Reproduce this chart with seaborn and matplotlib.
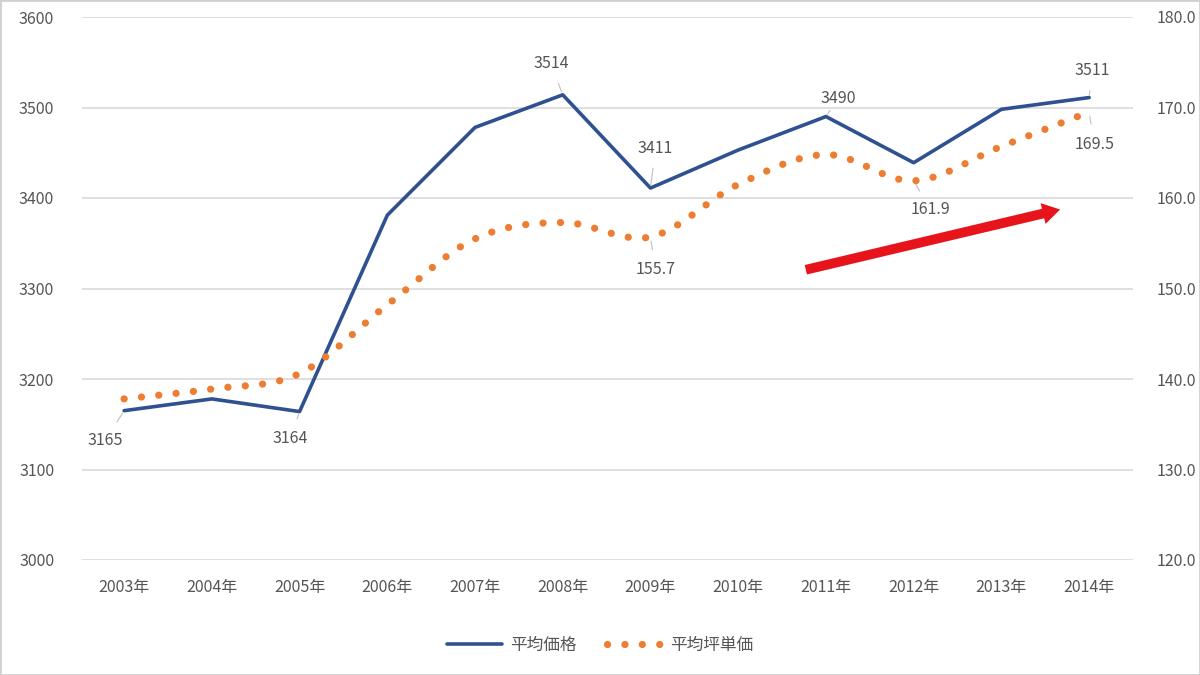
import numpy as np
import pandas as pd
import matplotlib
matplotlib.use("Agg")
import matplotlib.pyplot as plt
import seaborn as sns

years = ["2003年", "2004年", "2005年", "2006年", "2007年", "2008年",
         "2009年", "2010年", "2011年", "2012年", "2013年", "2014年"]
avg_price = [3165, 3178, 3164, 3381, 3478, 3514, 3411, 3453, 3490, 3439, 3498, 3511]
avg_tsubo = [137.8, 138.9, 140.6, 148.2, 155.5, 157.3, 155.7, 161.5, 164.8, 161.9, 165.7, 169.5]
price_labels_idx = [0, 2, 5, 6, 8, 11]
tsubo_labels_idx = [6, 9, 11]
left_ticks = [3000, 3100, 3200, 3300, 3400, 3500, 3600]
right_ticks = [120, 130, 140, 150, 160, 170, 180]

sns.set_theme(style="white")
plt.rcParams['font.family'] = ['Noto Sans CJK JP', 'DejaVu Sans']

BLUE = "#2F5190"
ORANGE = "#ED7D31"
GRAY = "#555555"
DOTS = (0, (0.01, 2.4))

fig = plt.figure(figsize=(12, 6.75), dpi=100)
ax = fig.add_axes([82/1200, 1 - 560/675, (1133-82)/1200, (560-17)/675])
ax2 = ax.twinx()

x = np.arange(len(years))
df = pd.DataFrame({"x": x, "price": avg_price, "tsubo": avg_tsubo})

# smooth curve (Catmull-Rom) through the tsubo values, like Excel's smoothed line
def catmull(xs, ys, n=30):
    xs = np.asarray(xs, float); ys = np.asarray(ys, float)
    px = np.concatenate([[2*xs[0]-xs[1]], xs, [2*xs[-1]-xs[-2]]])
    py = np.concatenate([[2*ys[0]-ys[1]], ys, [2*ys[-1]-ys[-2]]])
    ox, oy = [], []
    for i in range(1, len(px)-2):
        t = np.linspace(0, 1, n, endpoint=False)
        for arr, out in ((px, ox), (py, oy)):
            p0, p1, p2, p3 = arr[i-1], arr[i], arr[i+1], arr[i+2]
            out.extend(0.5*((2*p1) + (-p0+p2)*t + (2*p0-5*p1+4*p2-p3)*t**2 + (-p0+3*p1-3*p2+p3)*t**3))
    ox.append(xs[-1]); oy.append(ys[-1])
    return np.array(ox), np.array(oy)

sx, sy = catmull(x, avg_tsubo)
smooth = pd.DataFrame({"x": sx, "y": sy})

sns.lineplot(data=df, x="x", y="price", ax=ax, color=BLUE, linewidth=2.6, legend=False)
sns.lineplot(data=smooth, x="x", y="y", ax=ax2, color=ORANGE, linewidth=5.2,
             legend=False, estimator=None, sort=False)
line2 = ax2.lines[-1]
line2.set_linestyle(DOTS)
line2.set_dash_capstyle("round")

ax.set_xlim(-0.48, 11.5)
ax.set_ylim(3000, 3600)
ax2.set_ylim(120, 180)
ax.set_yticks(left_ticks)
ax2.set_yticks(right_ticks)
ax2.set_yticklabels([f"{v:.1f}" for v in right_ticks])
ax.set_xticks(x)
ax.set_xticklabels(years)
ax.grid(axis="y", color="#D9D9D9", linewidth=1.2)
ax.set_axisbelow(True)
for a in (ax, ax2):
    for s in a.spines.values():
        s.set_visible(False)
    a.tick_params(length=0, labelsize=11.5, colors=GRAY)
    a.set_xlabel(""); a.set_ylabel("")
ax.tick_params(axis="y", pad=20)
ax2.tick_params(axis="y", pad=17)
ax.tick_params(axis="x", pad=14)

# data labels
price_off = {0: (-19, -30), 2: (-9, -27), 5: (-12, 31), 6: (5, 40), 8: (12, 18), 11: (3, 27)}
for i in price_labels_idx:
    dx, dy = price_off[i]
    ax.annotate(str(avg_price[i]), (x[i], avg_price[i]), xytext=(dx, dy), textcoords="offset pixels",
                ha="center", va="center", fontsize=11.5, color=GRAY,
                arrowprops=dict(arrowstyle="-", color="#BFBFBF", lw=0.8, shrinkA=6, shrinkB=2))
tsubo_off = {6: (5, -33), 9: (17, -29), 11: (5, -32)}
for i in tsubo_labels_idx:
    dx, dy = tsubo_off[i]
    ax2.annotate(f"{avg_tsubo[i]:.1f}", (x[i], avg_tsubo[i]), xytext=(dx, dy), textcoords="offset pixels",
                 ha="center", va="center", fontsize=11.5, color=GRAY,
                 arrowprops=dict(arrowstyle="-", color="#BFBFBF", lw=0.8, shrinkA=6, shrinkB=3))

# red trend arrow
ax.annotate("", xy=(10.7, 3388), xytext=(7.74, 3320),
            arrowprops=dict(arrowstyle="simple,head_length=0.9,head_width=1.1,tail_width=0.5",
                            color="#E8141B", lw=0, mutation_scale=14), zorder=5)

# legend
from matplotlib.lines import Line2D
h1 = Line2D([], [], color=BLUE, linewidth=2.6)
h2 = Line2D([], [], color=ORANGE, linewidth=5.2, linestyle=DOTS, dash_capstyle="round")
fig.legend([h1, h2], ["平均価格", "平均坪単価"], loc="center", bbox_to_anchor=(0.5, 1 - 645/675),
           ncol=2, frameon=False, fontsize=12, labelcolor=GRAY, handlelength=3.3, columnspacing=1.8,
           handletextpad=0.5)

fig.patches.append(plt.Rectangle((0, 0), 1, 1, transform=fig.transFigure, fill=False,
                                 edgecolor="#D0D0D0", linewidth=2))
fig.savefig("out.png", dpi=100)
